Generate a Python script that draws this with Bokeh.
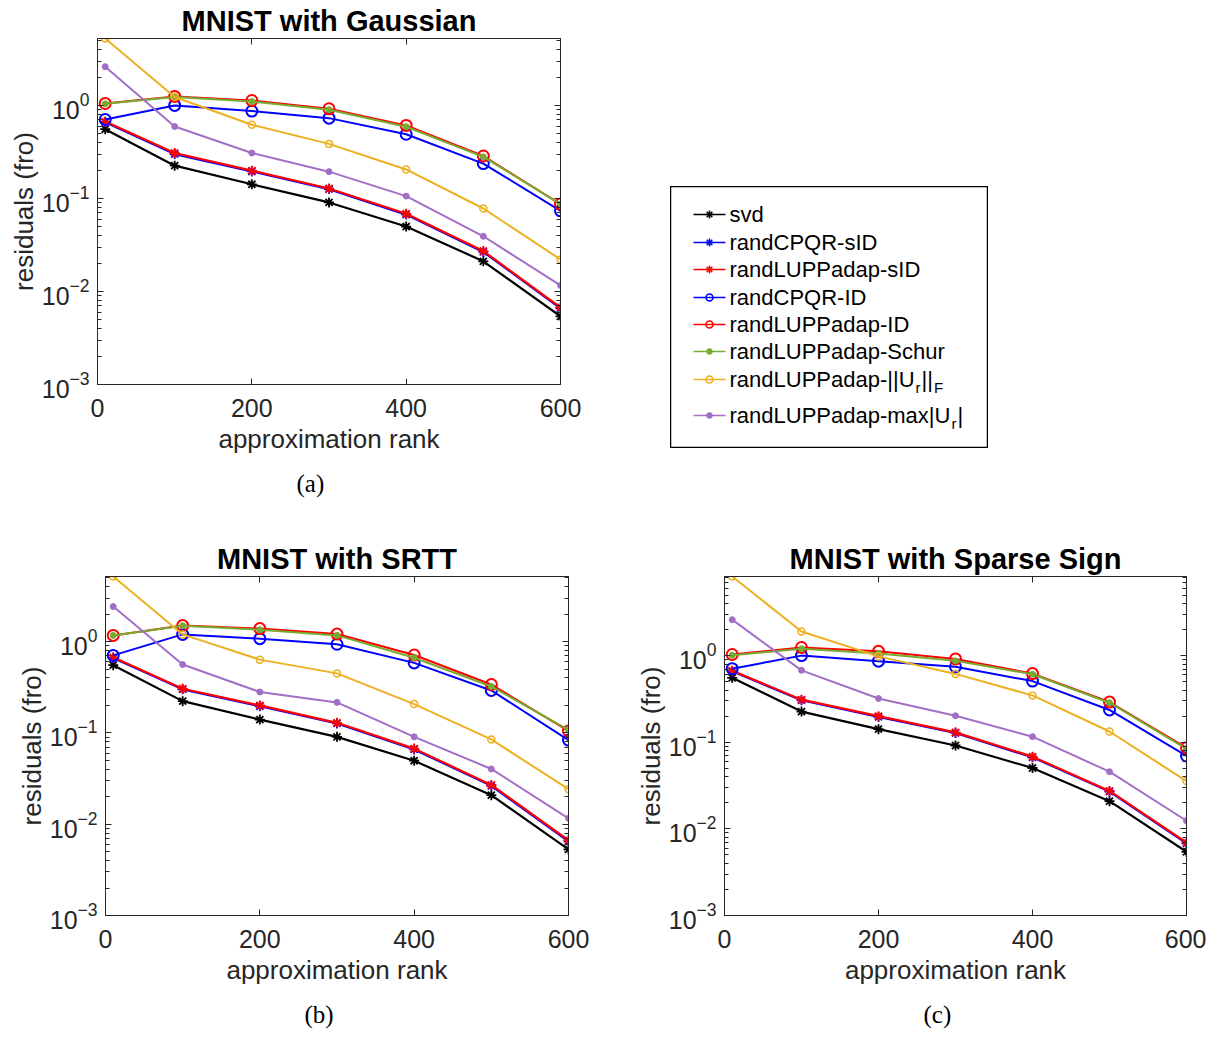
from bokeh.plotting import figure
from bokeh.models import Range1d, FixedTicker, LinearAxis, LogAxis, Title, Spacer
from bokeh.layouts import row, column
from bokeh.embed import file_html
from bokeh.resources import INLINE
from bokeh.core.properties import value

# ---------------- data ----------------
ranks = [10, 100, 200, 300, 400, 500, 600]
series_names = ["svd", "randCPQR-sID", "randLUPPadap-sID", "randCPQR-ID",
                "randLUPPadap-ID", "randLUPPadap-Schur",
                "randLUPPadap-||U_r||_F", "randLUPPadap-max|U_r|"]

# (a) MNIST with Gaussian
gauss_svd = [0.555, 0.225, 0.142, 0.0906, 0.0499, 0.0211, 0.0054]
gauss_cpqr_sid = [0.66, 0.30, 0.195, 0.126, 0.067, 0.0266, 0.0066]
gauss_lupp_sid = [0.67, 0.308, 0.199, 0.128, 0.0684, 0.0272, 0.00672]
gauss_cpqr_id = [0.706, 1.0, 0.87, 0.73, 0.49, 0.237, 0.0736]
gauss_lupp_id = [1.05, 1.25, 1.13, 0.92, 0.61, 0.286, 0.0869]
gauss_schur = [1.04, 1.23, 1.10, 0.90, 0.59, 0.28, 0.087]
gauss_frob = [5.24, 1.23, 0.62, 0.386, 0.205, 0.078, 0.0221]
gauss_maxu = [2.61, 0.593, 0.308, 0.194, 0.106, 0.0392, 0.0116]

# (b) MNIST with SRTT
srtt_svd = [0.552, 0.223, 0.140, 0.0906, 0.0496, 0.0208, 0.0053]
srtt_cpqr_sid = [0.66, 0.30, 0.196, 0.127, 0.066, 0.0263, 0.0065]
srtt_lupp_sid = [0.673, 0.305, 0.2, 0.129, 0.0673, 0.0269, 0.00667]
srtt_cpqr_id = [0.707, 1.2, 1.077, 0.936, 0.585, 0.292, 0.0834]
srtt_lupp_id = [1.17, 1.5, 1.39, 1.21, 0.713, 0.339, 0.105]
srtt_schur = [1.17, 1.49, 1.35, 1.17, 0.667, 0.323, 0.108]
srtt_frob = [5.17, 1.2, 0.635, 0.449, 0.207, 0.0848, 0.0242]
srtt_maxu = [2.42, 0.561, 0.281, 0.216, 0.0906, 0.0403, 0.0116]

# (c) MNIST with Sparse Sign
sparse_svd = [0.554, 0.226, 0.1416, 0.0917, 0.0504, 0.0209, 0.00544]
sparse_cpqr_sid = [0.66, 0.305, 0.196, 0.128, 0.067, 0.027, 0.0068]
sparse_lupp_sid = [0.67, 0.31, 0.2, 0.13, 0.0682, 0.0274, 0.00695]
sparse_cpqr_id = [0.706, 1.0, 0.863, 0.744, 0.508, 0.236, 0.0694]
sparse_lupp_id = [1.03, 1.24, 1.12, 0.916, 0.62, 0.291, 0.0863]
sparse_schur = [1.01, 1.2, 1.06, 0.87, 0.61, 0.286, 0.084]
sparse_frob = [8.19, 1.9, 0.98, 0.615, 0.347, 0.133, 0.0356]
sparse_maxu = [2.6, 0.676, 0.32, 0.202, 0.116, 0.0457, 0.0124]

x_ticks = [0, 200, 400, 600]
y_ticks = [1e-3, 1e-2, 1e-1, 1e0]

# ---------------- styles ----------------
STYLES = [
    dict(color="#000000", marker="asterisk", size=10, fill=None, lw=2.2, mlw=1.8),
    dict(color="#0000FF", marker="asterisk", size=10, fill=None, lw=2.2, mlw=1.8),
    dict(color="#FF0000", marker="asterisk", size=10, fill=None, lw=2.2, mlw=1.8),
    dict(color="#0000FF", marker="circle", size=11, fill=None, lw=2.0, mlw=2.0),
    dict(color="#FF0000", marker="circle", size=11, fill=None, lw=2.0, mlw=2.0),
    dict(color="#77AC30", marker="circle", size=6, fill="#77AC30", lw=2.0, mlw=1.0),
    dict(color="#EDB120", marker="circle", size=7, fill=None, lw=2.0, mlw=1.5),
    dict(color="#A26FC6", marker="circle", size=6, fill="#A26FC6", lw=2.0, mlw=1.0),
]

FONT = "Liberation Sans"
AX = "#262626"


def style_axis(ax, show_labels=True):
    ax.major_tick_in = 6
    ax.major_tick_out = 0
    ax.minor_tick_in = 4
    ax.minor_tick_out = 0
    ax.axis_line_color = AX
    ax.major_tick_line_color = AX
    ax.minor_tick_line_color = AX
    ax.major_label_text_font = FONT
    ax.major_label_text_color = AX
    if show_labels:
        ax.major_label_text_font_size = "25px"
    else:
        ax.major_label_text_font_size = "1px"
        ax.major_label_text_alpha = 0.0
        ax.major_label_standoff = 0


def make_panel(title, data, width, height, bl, br, bt, bb, caption):
    ymax = max(max(s) for s in data)
    p = figure(width=width, height=height, x_range=Range1d(0, 600),
               y_range=Range1d(1e-3, ymax), y_axis_type="log",
               output_backend="svg", toolbar_location=None,
               min_border_left=bl, min_border_right=br,
               min_border_top=bt, min_border_bottom=bb)
    p.xgrid.visible = False
    p.ygrid.visible = False
    p.outline_line_color = AX
    p.outline_line_width = 1
    p.background_fill_color = "white"
    p.border_fill_color = "white"

    minor = [m * 10.0 ** e for e in range(-3, 1) for m in range(2, 10) if m * 10.0 ** e <= ymax]
    yt = FixedTicker(ticks=y_ticks, minor_ticks=minor)
    xt = FixedTicker(ticks=x_ticks, minor_ticks=[])

    p.xaxis[0].ticker = xt
    p.yaxis[0].ticker = yt
    style_axis(p.xaxis[0])
    style_axis(p.yaxis[0])
    p.xaxis[0].major_label_standoff = 14
    p.yaxis[0].major_label_standoff = 8
    p.xaxis[0].axis_label = "approximation rank"
    p.yaxis[0].axis_label = "residuals (fro)"
    for ax in (p.xaxis[0], p.yaxis[0]):
        ax.axis_label_text_font = FONT
        ax.axis_label_text_font_size = "26px"
        ax.axis_label_text_font_style = "normal"
        ax.axis_label_text_color = AX
    p.xaxis[0].axis_label_standoff = 4
    p.yaxis[0].axis_label_standoff = 0

    top = LinearAxis(ticker=FixedTicker(ticks=x_ticks, minor_ticks=[]))
    style_axis(top, False)
    p.add_layout(top, "above")
    right = LogAxis(ticker=FixedTicker(ticks=y_ticks, minor_ticks=minor))
    style_axis(right, False)
    p.add_layout(right, "right")

    p.title.text = title
    p.title.align = "center"
    p.title.text_font = FONT
    p.title.text_font_size = "29px"
    p.title.text_font_style = "bold"
    p.title.text_color = "#000000"
    p.title.standoff = 4

    cap = Title(text=caption, align="left", text_font="Liberation Serif",
                text_font_size="25px", text_font_style="normal",
                text_color="#000000", offset=199, standoff=22)
    p.add_layout(cap, "below")

    for vals, st in zip(data, STYLES):
        p.line(ranks, vals, line_color=st["color"], line_width=st["lw"])
        p.scatter(ranks, vals, marker=st["marker"], size=st["size"],
                  line_color=st["color"], fill_color=st["fill"],
                  line_width=st["mlw"])
    return p


pa = make_panel("MNIST with Gaussian",
                [gauss_svd, gauss_cpqr_sid, gauss_lupp_sid, gauss_cpqr_id,
                 gauss_lupp_id, gauss_schur, gauss_frob, gauss_maxu],
                620, 538, 97, 60, 38, 154, "(a)")
pb = make_panel("MNIST with SRTT",
                [srtt_svd, srtt_cpqr_sid, srtt_lupp_sid, srtt_cpqr_id,
                 srtt_lupp_id, srtt_schur, srtt_frob, srtt_maxu],
                620, 500, 105, 52, 38, 116, "(b)")
pc = make_panel("MNIST with Sparse Sign",
                [sparse_svd, sparse_cpqr_sid, sparse_lupp_sid, sparse_cpqr_id,
                 sparse_lupp_id, sparse_schur, sparse_frob, sparse_maxu],
                586, 500, 104, 20, 38, 116, "(c)")

# ---------------- legend ----------------
LW, LH = 318, 262
leg = figure(width=LW, height=LH, x_range=Range1d(0, LW), y_range=Range1d(LH, 0),
             output_backend="svg", toolbar_location=None, min_border=0,
             x_axis_location=None, y_axis_location=None, title=None)
leg.xgrid.visible = False
leg.ygrid.visible = False
leg.outline_line_color = "#000000"
leg.outline_line_width = 1.5

ARIAL_W = {"r": 333, "a": 556, "n": 556, "d": 556, "L": 556, "U": 722, "P": 667,
           "-": 333, "|": 260, "m": 833, "x": 500, "s": 500, "v": 500, "C": 722,
           "Q": 778, "R": 722, "I": 278, "D": 722, "S": 667, "c": 500, "h": 556,
           "u": 556, "p": 556, "F": 611, " ": 278}


def tw(s, size):
    return sum(ARIAL_W.get(ch, 556) for ch in s) * size / 1000.0


row_y = [28, 56, 83, 111, 138, 165, 193, 229]
MAIN, SUB = 22, 15
main_x, main_y, main_t = [], [], []
sub_x, sub_y, sub_t = [], [], []
for name, st, yy in zip(series_names, STYLES, row_y):
    leg.line([23, 55], [yy, yy], line_color=st["color"], line_width=1.5)
    if st["marker"] == "circle" and st["fill"] is None:
        msize = 7
    else:
        msize = st["size"] * 0.8
    leg.scatter([39], [yy], marker=st["marker"], size=msize,
                line_color=st["color"], fill_color=st["fill"], line_width=1.5)
    cx = 59
    i = 0
    buf = ""
    while i < len(name):
        if name[i] == "_":
            if buf:
                main_x.append(cx); main_y.append(yy); main_t.append(buf)
                cx += tw(buf, MAIN)
                buf = ""
            sub_x.append(cx + 1); sub_y.append(yy + 8); sub_t.append(name[i + 1])
            cx += tw(name[i + 1], SUB) + 2
            i += 2
        else:
            buf += name[i]
            i += 1
    if buf:
        main_x.append(cx); main_y.append(yy); main_t.append(buf)

leg.text(x=main_x, y=main_y, text=main_t, text_font=value(FONT),
         text_font_size=value(f"{MAIN}px"), text_baseline="middle",
         text_align="left", text_color="#000000")
leg.text(x=sub_x, y=sub_y, text=sub_t, text_font=value(FONT),
         text_font_size=value(f"{SUB}px"), text_baseline="middle",
         text_align="left", text_color="#000000")

layout = column(
    row(pa, Spacer(width=50), column(Spacer(height=186), leg)),
    row(pb, pc),
)

open("out.html", "w").write(file_html(layout, INLINE))
